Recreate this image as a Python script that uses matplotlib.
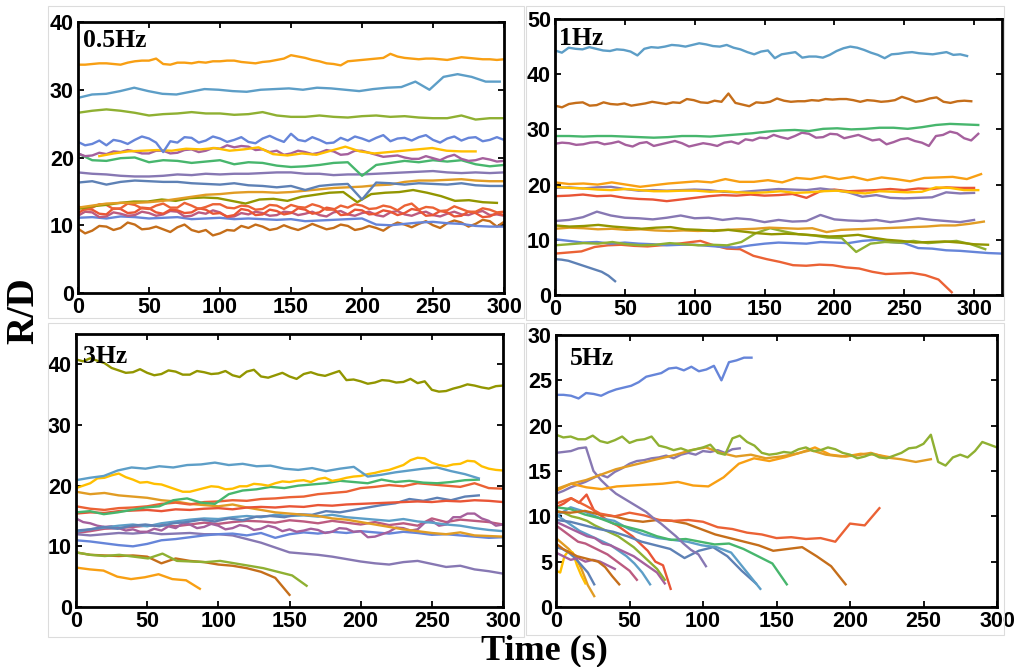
import numpy as np
import matplotlib
matplotlib.use("Agg")
import matplotlib.pyplot as plt
from matplotlib.patches import Rectangle

# ---------------- palette (Mathematica-like) ----------------
BLUE = "#5E81B5"; ORANGE = "#E19C24"; GREEN = "#8FB032"; RED = "#EB6235"
PURPLE = "#8778B3"; BROWN = "#C56E1A"; LBLUE = "#5D9EC7"; YELLOW = "#FFBF00"
MAGENTA = "#A5609D"; OLIVE = "#929600"; RED2 = "#E95536"; RBLUE = "#6685D9"
ORANGE2 = "#F89F13"; PINK = "#BC5B80"; GREEN2 = "#47B66D"

# ---------------- data: 0.5 Hz ----------------
h05_s1 = [33.7,33.7,33.8,33.9,33.9,33.8,33.7,34.0,34.2,34.3,34.3,34.6,33.8,33.7,34.0,34.0,33.9,34.1,34.0,34.2,34.2,34.3,34.3,34.1,34.0,33.9,34.1,34.2,34.4,34.6,35.1,34.9,34.7,34.4,34.2,33.9,33.8,33.6,34.2,34.3,34.4,34.5,34.6,34.7,35.3,34.9,34.7,34.6,34.5,34.6,34.6,34.5,34.4,34.6,34.8,34.7,34.6,34.5,34.5,34.4,34.5]
h05_s2 = [28.8,29.3,29.4,29.8,30.3,29.8,29.4,29.3,29.7,30.1,30.0,29.8,29.7,30.0,30.1,30.2,30.0,30.3,30.2,30.0,29.8,30.1,30.3,30.4,31.2,30.0,31.9,32.3,31.9,31.2,31.2]
h05_s3 = [26.6,26.9,27.1,26.9,26.6,26.2,26.4,26.5,26.7,26.5,26.5,26.3,26.4,26.7,26.2,26.0,26.0,26.2,26.0,25.9,26.1,26.2,26.0,26.1,25.9,25.8,25.8,26.2,25.6,25.8,25.8]
h05_s4 = [22.3,21.8,22.0,22.5,21.8,22.6,22.4,22.0,22.6,23.1,22.8,22.2,20.8,22.4,22.2,23.0,22.9,22.2,22.5,23.1,22.8,22.3,22.6,23.0,22.3,22.1,22.8,23.2,22.7,22.3,23.5,22.6,22.4,23.0,22.6,22.1,22.2,22.9,22.5,23.1,22.8,22.4,22.9,23.3,22.4,22.8,22.9,22.5,23.0,23.3,22.6,22.2,22.8,23.1,22.5,22.9,23.0,22.4,22.6,23.0,22.6]
h05_s5 = [20.2,20.6,20.9,21.0,21.1,21.0,21.3,21.2,21.4,21.0,21.2,21.5,20.5,20.3,20.6,20.4,21.0,21.6,20.9,20.6,20.8,21.0,21.2,21.4,21.0,20.9,20.9]
h05_s6 = [20.6,20.2,20.3,20.7,20.5,20.9,20.8,21.1,20.9,20.6,20.6,21.0,21.0,20.6,20.7,21.1,21.2,20.8,21.0,21.4,21.3,21.8,21.5,21.7,21.6,21.1,21.2,20.8,21.0,20.4,20.6,21.0,20.8,20.5,20.7,21.1,20.9,20.4,20.5,21.0,21.0,20.7,20.4,20.1,20.2,20.3,20.0,19.8,19.8,20.2,19.9,19.6,20.1,20.4,19.8,19.5,19.6,19.9,19.7,19.4,19.5]
h05_s7 = [20.6,19.6,19.5,19.9,20.0,19.3,19.6,19.5,19.2,19.4,19.6,19.0,19.3,19.2,18.8,18.6,18.7,18.9,19.2,19.3,17.3,18.9,19.2,19.5,19.3,19.6,19.4,19.6,19.0,18.7,18.9]
h05_s8 = [17.8,17.6,17.5,17.3,17.2,17.2,17.3,17.5,17.4,17.6,17.5,17.6,17.6,17.7,17.8,17.8,17.6,17.6,17.4,17.5,17.5,17.6,17.7,17.8,17.9,18.0,17.8,17.7,17.8,17.7,17.8]
h05_s9 = [16.3,16.5,16.0,16.4,16.6,16.5,16.4,16.4,16.2,16.1,16.0,16.2,15.9,15.8,15.6,15.8,15.2,15.8,16.0,16.1,13.8,16.3,16.2,16.0,16.2,16.1,16.0,16.2,15.9,15.8,15.8]
h05_s10 = [12.6,12.9,13.2,13.3,13.3,13.4,13.6,13.9,14.2,14.5,14.6,14.8,14.9,14.9,14.8,14.9,15.1,15.3,15.5,15.6,15.7,15.9,16.0,16.4,16.6,16.6,16.7,16.8,16.6,16.5,16.5]
h05_s11 = [12.4,12.8,13.0,13.3,13.5,13.5,13.8,13.6,14.0,14.1,14.0,13.6,13.2,13.8,13.9,13.6,14.2,14.5,14.8,14.9,13.4,14.6,14.8,14.9,15.2,14.8,14.3,13.6,13.7,13.4,13.3]
h05_s12 = [12.8,12.3,12.6,13.1,13.0,12.4,12.5,13.2,13.0,12.5,12.4,12.9,13.2,12.6,12.6,13.3,12.9,12.4,12.7,13.1,13.1,12.6,12.5,12.9,12.8,12.3,12.4,13.0,12.9,12.4,13.0,12.7,12.6,13.1,12.8,12.3,12.3,12.9,12.6,13.1,12.9,12.4,12.5,12.9,12.7,12.2,12.9,13.2,12.3,12.7,12.6,12.1,12.2,12.8,12.4,12.0,12.0,12.5,12.3,11.9,12.0]
h05_s13 = [11.8,12.4,12.3,11.7,11.6,12.5,12.4,11.8,11.9,12.6,12.5,11.9,11.7,12.3,12.2,11.8,11.9,12.5,12.3,11.7,11.8,11.3,11.5,12.4,12.2,11.5,11.6,12.3,12.1,11.6,11.8,12.5,12.3,11.7,11.9,12.6,12.4,11.5,11.6,12.3,12.2,11.6,11.7,12.2,12.0,11.5,11.8,12.4,12.2,11.4,11.5,12.1,11.9,11.3,11.4,12.0,11.8,11.2,11.3,11.8,11.5]
h05_s14 = [11.4,12.0,11.9,11.2,11.3,11.9,11.7,11.4,11.5,12.0,11.8,11.4,11.6,12.1,12.0,11.3,11.4,11.9,11.7,12.2,11.9,11.2,11.3,11.8,11.6,12.0,11.8,11.4,11.5,12.0,11.9,11.5,11.7,12.0,11.5,11.3,11.9,12.1,11.6,11.4,11.8,12.0,11.5,11.3,11.9,12.1,11.6,11.4,11.8,12.0,11.5,11.3,11.7,12.0,11.6,11.5,11.9,12.1,11.5,11.6,11.4]
h05_s15 = [11.1,11.2,11.0,11.3,11.2,11.0,11.1,11.2,10.9,11.0,11.1,10.9,11.0,10.9,10.8,10.9,10.6,10.7,10.8,10.9,11.0,10.1,10.0,10.2,10.4,10.5,10.3,10.2,9.9,9.8,9.8]
h05_s16 = [9.5,8.8,9.2,9.9,9.8,9.3,9.6,10.4,10.1,9.4,9.5,9.8,9.4,9.0,9.7,10.1,9.3,9.0,9.3,8.5,8.8,9.3,9.2,9.9,9.6,10.1,9.8,9.3,9.5,10.0,9.6,9.3,9.7,10.2,9.8,9.4,9.6,10.1,9.9,9.3,9.5,9.9,9.6,9.2,9.9,10.4,10.1,9.7,10.2,10.6,10.0,9.6,10.3,10.7,10.4,9.8,10.2,10.8,10.6,9.8,10.5]

# ---------------- data: 1 Hz ----------------
h1_s1 = [44.3,43.9,44.8,44.6,44.5,44.9,44.6,44.3,44.2,44.5,44.4,44.1,43.4,44.6,44.9,44.8,45.0,45.3,45.2,45.0,45.3,45.6,45.4,45.1,45.0,45.3,44.8,44.5,44.0,43.6,44.1,44.3,42.9,43.6,43.8,44.0,43.0,43.2,43.2,43.0,43.5,44.2,44.7,45.0,44.8,44.4,43.9,43.5,42.9,43.6,43.7,43.9,44.0,43.8,43.7,43.6,43.8,44.0,43.5,43.6,43.3]
h1_s2 = [34.3,34.0,34.6,34.8,34.9,34.3,34.4,34.9,34.6,34.5,34.7,34.3,34.5,34.7,35.0,34.8,34.6,34.9,34.8,35.5,35.3,34.9,34.8,35.2,35.0,36.5,34.8,34.5,34.2,34.9,34.8,35.0,35.6,35.2,35.0,35.1,35.1,35.3,35.2,35.5,35.4,35.5,35.5,35.3,35.0,35.3,35.2,35.0,35.1,35.3,35.9,35.5,35.0,35.2,35.6,35.8,35.0,34.8,35.1,35.2,35.1]
h1_s3 = [28.8,28.8,28.7,28.8,28.8,28.7,28.6,28.5,28.6,28.8,28.8,28.7,28.9,29.1,29.3,29.6,29.8,29.9,29.7,30.1,30.2,30.0,30.1,30.3,30.3,30.1,30.4,30.8,31.0,30.9,30.8]
h1_s4 = [27.4,27.6,27.5,27.2,27.3,27.6,27.7,27.3,27.5,27.8,27.2,26.9,27.5,27.7,27.0,27.3,27.6,27.9,27.5,26.9,27.2,27.5,27.3,27.0,27.6,27.8,27.4,28.2,28.0,28.5,28.4,29.0,28.6,28.3,28.8,29.4,29.2,28.5,28.6,29.2,29.1,28.4,28.7,29.0,28.5,28.0,28.2,27.3,27.7,28.2,28.4,27.9,27.6,27.0,28.8,29.0,29.6,29.3,28.4,28.0,29.2]
h1_s5 = [20.4,20.1,20.2,20.0,20.4,20.0,19.6,19.9,20.2,20.4,20.6,20.4,21.0,20.5,20.5,20.8,20.4,21.2,21.0,21.5,21.0,21.4,20.8,21.3,21.0,20.6,21.2,21.3,21.4,21.0,21.9]
h1_s6 = [19.6,19.4,19.3,19.1,19.0,19.2,19.0,18.8,18.8,18.9,18.9,18.7,18.8,18.6,18.5,18.6,18.8,18.5,18.6,18.8,18.9,18.6,18.4,18.8,18.7,18.6,18.7,19.5,19.4,19.0,19.0]
h1_s7 = [19.4,19.5,19.3,19.5,19.6,19.2,18.9,19.0,18.9,19.0,19.1,19.0,18.7,18.6,18.8,19.0,19.2,19.1,19.0,19.3,19.0,18.6,17.8,18.1,17.6,17.5,17.6,17.7,18.6,18.4,18.5]
h1_s8 = [17.9,18.0,18.2,17.9,18.0,17.6,17.4,17.3,17.0,17.3,17.6,17.9,18.1,18.0,18.2,18.0,18.1,18.3,17.6,18.8,19.1,18.8,18.9,19.0,19.2,19.0,19.3,19.2,19.5,19.4,19.4]
h1_s9 = [13.4,13.6,14.1,15.1,14.4,14.0,13.9,13.7,14.0,14.4,13.9,14.0,13.6,13.9,13.7,13.2,13.6,13.3,13.4,14.5,13.7,13.5,13.4,13.6,13.2,13.5,13.9,13.6,13.4,13.2,13.6]
h1_s10 = [12.6,12.4,12.5,12.7,12.4,12.2,12.0,12.2,12.3,11.9,11.8,11.6,11.8,11.5,11.2,11.0,11.1,11.0,10.8,10.6,10.7,10.9,10.4,10.0,9.8,9.5,9.6,9.7,9.5,9.2,9.1]
h1_s11 = [12.0,12.2,12.1,11.9,12.0,11.8,11.9,11.7,11.6,11.7,11.6,11.7,11.8,11.9,12.0,12.2,12.1,12.0,12.1,11.4,11.8,11.9,12.0,12.1,12.2,12.3,12.4,12.6,12.6,12.9,13.3]
h1_s12 = [9.0,9.2,9.4,9.3,9.6,9.2,9.0,9.1,9.4,9.2,9.0,9.1,9.0,9.6,11.2,12.1,11.5,11.0,10.8,10.4,10.3,7.8,9.3,9.6,9.5,9.8,9.4,9.6,9.8,9.2,8.3]
h1_s13 = [10.1,9.8,9.5,9.6,9.3,9.5,9.3,9.2,9.0,9.1,9.1,8.9,8.7,8.6,9.0,9.3,9.5,9.4,9.3,9.6,9.5,9.4,9.8,10.0,9.6,9.4,8.5,8.4,8.1,8.0,7.8,7.6,7.5]
h1_s14 = [7.5,7.7,7.9,8.7,9.0,9.1,8.9,8.8,9.0,9.2,9.5,9.8,9.0,8.4,8.3,7.1,6.5,6.0,5.4,5.3,5.5,5.4,5.0,4.8,4.2,3.8,3.9,4.0,3.6,2.8,0.5]
h1_s15 = [6.5,6.4,6.2,5.8,5.4,5.0,4.6,4.2,3.5,2.5]

# ---------------- data: 3 Hz ----------------
h3_s1 = [40.8,40.5,41.0,40.6,40.2,39.4,39.0,38.6,38.7,39.2,38.6,38.2,38.4,39.0,38.8,38.3,38.3,38.9,38.7,38.4,38.5,38.9,38.2,37.9,38.8,39.1,38.0,37.8,38.2,38.6,38.0,37.6,38.4,38.7,38.3,38.1,38.5,38.9,37.4,37.5,37.2,36.8,37.0,37.4,37.3,37.0,37.1,37.6,36.9,37.2,35.8,35.5,35.6,36.0,36.3,36.7,36.5,36.2,36.0,36.4,36.5]
h3_s2 = [20.9,21.3,21.6,22.5,23.0,22.8,23.2,23.0,23.4,23.5,23.8,23.4,23.6,23.2,23.3,22.8,22.6,22.9,22.4,22.8,23.1,21.5,21.8,22.2,22.5,22.8,23.0,22.4,21.9,21.2]
h3_s3 = [19.6,20.0,20.4,21.2,21.3,21.7,22.0,21.4,21.0,20.5,20.6,20.3,20.2,19.8,19.4,19.0,19.0,19.3,19.6,19.9,19.8,19.4,19.5,19.9,19.9,20.3,20.2,20.0,20.4,20.7,20.6,20.8,20.9,20.6,21.1,21.3,20.8,21.0,21.3,21.5,21.6,21.9,22.1,22.4,22.6,23.0,23.4,24.2,24.6,24.5,23.8,23.4,23.2,23.5,23.6,24.1,24.0,23.2,22.8,22.6,22.5]
h3_s4 = [19.0,18.6,18.8,18.4,18.2,18.0,17.6,17.4,17.0,16.8,16.6,16.9,16.4,16.0,15.6,15.4,15.2,15.0,14.6,14.4,14.0,13.6,13.2,12.8,12.5,12.2,12.0,12.3,11.8,11.7,11.6]
h3_s5 = [15.6,15.8,15.3,15.6,16.0,16.4,16.6,17.6,17.9,17.2,17.0,18.6,19.2,19.4,19.8,19.6,20.0,20.2,20.4,20.8,20.6,20.4,21.0,20.6,20.8,20.5,20.4,20.6,20.9,21.0]
h3_s6 = [16.6,16.2,16.0,16.3,16.4,16.6,17.0,17.2,16.9,17.3,17.4,17.6,17.5,17.8,17.9,18.1,18.2,18.6,18.8,19.0,19.6,19.8,20.1,19.9,20.4,20.2,20.0,19.8,20.4,19.6,19.5]
h3_s7 = [15.4,15.6,15.5,15.8,15.9,16.0,15.8,16.1,16.0,16.2,16.3,16.1,16.4,16.5,16.4,16.6,16.5,16.8,16.7,16.9,17.0,17.1,17.2,17.3,17.4,17.3,17.5,17.4,17.6,17.5,17.3]
h3_s8 = [12.6,12.8,13.2,12.9,13.4,13.6,13.3,13.8,14.0,14.4,14.1,14.6,14.3,14.9,15.0,14.8,15.3,15.2,15.8,15.6,16.0,16.4,16.8,17.1,17.8,17.5,18.0,17.6,18.2,18.4]
h3_s9 = [12.4,12.8,13.1,13.4,13.6,13.3,13.8,14.1,14.4,14.6,14.5,14.8,15.0,14.8,15.2,15.0,15.1,14.9,15.2,14.8,14.6,14.4,14.2,14.5,14.1,13.9,13.6,13.4,13.0,12.7,12.5]
h3_s10 = [14.6,14.0,13.8,13.4,13.2,13.3,13.0,12.6,12.8,12.4,12.4,12.9,12.6,13.3,13.0,13.8,13.6,13.0,13.2,13.7,13.4,12.8,13.0,13.5,13.3,12.7,12.9,13.4,13.1,12.5,12.8,12.4,12.6,12.9,12.7,12.2,12.4,13.0,12.9,12.4,12.5,11.5,11.6,12.0,12.4,13.1,13.0,12.6,12.8,13.9,14.2,13.4,13.6,14.8,14.8,15.4,15.4,14.6,14.2,13.4,13.6]
h3_s11 = [11.0,10.8,10.5,10.2,10.0,10.4,11.0,11.2,11.5,11.8,12.0,12.1,11.8,12.2,11.4,12.0,12.3,12.1,12.4,12.2,12.5,12.3,12.1,12.4,12.2,11.9,12.0,11.8,11.6,11.4,11.5]
h3_s12 = [12.0,11.8,12.0,12.2,12.1,12.3,12.0,12.1,12.2,12.0,12.0,11.8,11.2,10.6,9.8,9.0,8.8,8.6,8.3,7.9,7.5,7.2,7.0,7.4,7.6,7.1,6.6,6.8,6.2,5.9,5.5]
h3_s13 = [12.2,12.5,12.9,13.0,13.2,13.4,13.5,13.3,13.6,13.9,13.7,14.0,14.2,14.1,13.9,14.3,14.1,13.8,14.2,13.9,13.6,14.0,13.5,13.8,13.4,14.6,14.0,14.4,14.2,14.0,13.6]
h3_s14 = [9.0,8.6,8.4,8.6,8.3,8.0,8.8,7.6,7.5,7.4,7.6,7.2,6.8,6.4,5.8,5.2,3.5]
h3_s15 = [9.0,8.6,8.5,8.4,8.5,8.3,7.2,8.0,7.6,7.4,7.0,6.8,6.4,5.8,4.8,2.0]
h3_s16 = [6.5,6.2,6.0,5.0,4.6,4.9,5.4,4.6,4.4,3.0]

# ---------------- data: 5 Hz ----------------
h5_s1 = [23.4,23.4,23.3,23.0,23.6,23.5,23.3,23.7,24.0,24.2,24.4,24.8,25.4,25.6,25.8,26.3,26.4,26.1,26.5,26.0,26.2,26.6,25.0,27.0,27.2,27.5,27.5]
h5_s2 = [19.0,18.7,18.8,18.5,18.5,18.9,18.3,18.1,18.4,18.8,18.1,18.4,18.5,18.8,17.8,17.6,17.3,17.5,17.2,17.4,17.6,17.9,17.0,16.8,18.6,18.9,18.2,17.8,17.0,16.8,16.9,17.1,17.0,17.4,17.6,17.2,17.3,17.6,17.4,17.0,16.8,16.4,16.6,16.9,16.5,16.4,16.7,17.0,17.5,17.6,18.0,19.0,16.0,15.6,16.5,16.8,16.5,17.2,18.2,17.9,17.6]
h5_s3 = [13.0,13.6,14.0,14.6,15.2,15.6,16.0,16.4,16.8,17.3,17.6,17.0,16.6,16.8,16.4,16.6,16.9,17.3,16.8,16.6,16.7,17.0,16.5,16.3,16.0,16.3]
h5_s4 = [12.8,13.6,13.2,13.0,13.3,13.4,13.5,13.6,13.8,13.4,13.3,14.3,15.8,16.4,16.1,16.5,17.0,17.6,16.8,16.6,16.9,16.8,16.5]
h5_s5 = [17.0,17.1,17.2,17.5,17.6,15.0,14.0,13.2,12.5,12.0,11.5,11.0,10.5,9.8,9.2,8.5,7.8,7.0,6.3,5.8,4.5]
h5_s6 = [12.5,12.8,13.2,13.5,13.8,14.2,14.6,14.3,14.9,15.3,15.8,16.1,16.2,16.4,16.5,16.7,16.4,16.8,17.0,16.8,17.2,17.1,17.3,17.0,17.4,17.5]
h5_s7 = [11.4,12.0,11.2,10.3,10.0,10.4,10.1,9.6,9.5,9.6,9.4,8.8,8.6,8.2,8.0,7.6,7.7,7.5,7.6,7.2,9.2,9.0,10.9]
h5_s8 = [10.5,10.4,10.6,10.2,10.0,9.6,9.4,9.6,9.5,9.2,8.6,8.0,7.6,7.2,6.8,6.2,6.4,6.6,5.6,4.5,2.5]
h5_s9 = [11.0,10.8,10.2,9.8,9.2,8.8,8.4,7.8,7.4,7.5,7.2,6.9,7.0,6.4,5.6,4.8,2.5]
h5_s10 = [10.0,11.0,10.5,9.8,9.5,8.6,8.0,7.6,7.4,7.2,6.8,6.6,6.0,4.0,2.0]
h5_s11 = [9.6,9.4,9.0,8.6,8.3,7.8,7.2,6.8,6.4,5.4,6.2,6.6,5.6,4.0,2.6]
h5_s12 = [11.0,11.4,12.0,11.5,12.4,10.6,10.0,9.4,9.0,8.4,7.8,7.0,6.2,5.0,4.6,2.0]
h5_s13 = [10.6,10.4,10.0,9.8,9.5,9.0,8.6,8.2,7.8,7.2,6.6,5.8,5.0,4.2,3.0]
h5_s14 = [9.4,9.0,8.6,8.2,7.8,7.6,7.0,6.8,6.4,6.0,5.6,5.0,4.4,3.8,2.6]
h5_s15 = [10.2,9.6,9.0,8.4,8.0,7.6,7.2,6.8,6.2,5.6,4.8,3.8,2.5]
h5_s16 = [9.0,8.4,7.8,7.2,7.0,6.6,6.2,5.8,5.2,4.6,4.0,3.0]
h5_s17 = [7.0,6.4,6.0,5.6,5.4,5.2,5.0,4.4,3.4,2.5]
h5_s18 = [6.0,5.6,5.2,5.4,5.0,5.2,5.0,4.6,4.2]
h5_s19 = [6.6,6.4,6.0,5.4,4.6,3.8,2.5]
h5_s20 = [4.0,3.8,5.6,6.2,6.0,4.6,3.5,2.6]
h5_s21 = [7.6,7.0,6.4,5.6,4.2,2.4,1.2]

# series: (values, start time, end time, colour)
panel_05 = [
    (h05_s16, 0, 300, BROWN), (h05_s15, 0, 300, RBLUE), (h05_s14, 0, 300, PINK),
    (h05_s13, 0, 300, RED2), (h05_s12, 0, 300, RED), (h05_s11, 0, 295, OLIVE),
    (h05_s10, 0, 300, ORANGE), (h05_s9, 0, 300, BLUE), (h05_s8, 0, 300, PURPLE),
    (h05_s7, 0, 300, GREEN2), (h05_s6, 0, 300, MAGENTA), (h05_s5, 15, 280, YELLOW),
    (h05_s4, 0, 300, RBLUE), (h05_s3, 0, 300, GREEN), (h05_s2, 0, 297, LBLUE),
    (h05_s1, 0, 300, ORANGE2),
]
panel_1 = [
    (h1_s15, 0, 43, BLUE), (h1_s14, 0, 284, RED), (h1_s13, 0, 320, RBLUE),
    (h1_s12, 0, 308, GREEN), (h1_s11, 0, 307, ORANGE), (h1_s10, 0, 310, OLIVE),
    (h1_s9, 0, 300, PURPLE), (h1_s8, 0, 300, RED2), (h1_s7, 0, 300, PURPLE),
    (h1_s6, 0, 303, YELLOW), (h1_s5, 0, 305, ORANGE2), (h1_s4, 0, 303, MAGENTA),
    (h1_s3, 0, 303, GREEN2), (h1_s2, 0, 298, BROWN), (h1_s1, 0, 295, LBLUE),
]
panel_3 = [
    (h3_s16, 0, 87, ORANGE2), (h3_s15, 0, 150, BROWN), (h3_s14, 0, 162, GREEN),
    (h3_s13, 0, 300, PINK), (h3_s12, 0, 300, PURPLE), (h3_s11, 0, 300, RBLUE),
    (h3_s10, 0, 300, MAGENTA), (h3_s9, 0, 300, LBLUE), (h3_s8, 0, 283, BLUE),
    (h3_s4, 0, 300, ORANGE), (h3_s7, 0, 300, RED2), (h3_s6, 0, 300, RED),
    (h3_s5, 0, 283, GREEN2), (h3_s3, 0, 300, YELLOW), (h3_s2, 0, 283, LBLUE),
    (h3_s1, 0, 300, OLIVE),
]
panel_5 = [
    (h5_s21, 0, 26, ORANGE), (h5_s20, 0, 20, YELLOW), (h5_s19, 0, 26, BLUE),
    (h5_s18, 0, 40, MAGENTA), (h5_s17, 0, 43, BROWN), (h5_s16, 0, 55, PINK),
    (h5_s15, 0, 64, LBLUE), (h5_s14, 0, 74, MAGENTA), (h5_s13, 0, 74, GREEN),
    (h5_s12, 0, 78, RED2), (h5_s11, 0, 136, BLUE), (h5_s10, 0, 139, LBLUE),
    (h5_s9, 0, 157, GREEN2), (h5_s8, 0, 197, BROWN), (h5_s7, 0, 220, RED),
    (h5_s6, 0, 125, PURPLE), (h5_s5, 0, 102, PURPLE), (h5_s4, 0, 228, ORANGE2),
    (h5_s3, 0, 255, ORANGE), (h5_s2, 0, 300, GREEN), (h5_s1, 0, 133, RBLUE),
]

panels = [
    # (series, label, pixel box [left, top, right, bottom], xlim, ylim, yticks, label pos)
    (panel_05, "0.5Hz", (78, 22, 504, 293), 300, 40, [0, 10, 20, 30, 40], (83, 47)),
    (panel_1, "1Hz", (555, 19, 1002, 295), 320, 50, [0, 10, 20, 30, 40, 50], (559, 45)),
    (panel_3, "3Hz", (76, 334, 503, 607), 300, 45, [0, 10, 20, 30, 40], (83, 363)),
    (panel_5, "5Hz", (556, 335, 997, 607), 300, 30, [0, 5, 10, 15, 20, 25, 30], (570, 365)),
]
xticks = [0, 50, 100, 150, 200, 250, 300]

W, H = 1018, 667
fig = plt.figure(figsize=(W / 100, H / 100), dpi=100)
fig.patch.set_facecolor("white")

# faint panel frames (as in the composed figure)
for (l, t, r, b) in [(48, 6, 524, 318), (526, 6, 1004, 320), (48, 323, 524, 637), (526, 323, 1004, 635)]:
    fig.add_artist(Rectangle((l / W, 1 - b / H), (r - l) / W, (b - t) / H,
                             transform=fig.transFigure, fill=False,
                             edgecolor="#dcdcdc", lw=0.8))

tick_font = dict(family="Liberation Sans", weight="bold", size=15.5)
serif = ["Liberation Serif", "DejaVu Serif"]

for series, label, (l, t, r, b), xmax, ymax, yticks, (lx, ly) in panels:
    ax = fig.add_axes([l / W, 1 - b / H, (r - l) / W, (b - t) / H])
    for vals, t0, t1, col in series:
        tt = np.linspace(t0, t1, len(vals))
        ax.plot(tt, vals, color=col, lw=1.7, solid_joinstyle="round")
    ax.set_xlim(0, xmax)
    ax.set_ylim(0, ymax)
    ax.set_xticks(xticks)
    ax.set_yticks(yticks)
    ax.set_xticklabels([str(v) for v in xticks], fontdict=tick_font)
    ax.set_yticklabels([str(v) for v in yticks], fontdict=tick_font)
    ax.tick_params(direction="in", length=4, width=1.3, top=True, right=True, pad=3)
    ax.tick_params(axis="x", pad=3)
    for sp in ax.spines.values():
        sp.set_linewidth(2.0)
        sp.set_color("black")
    fig.text(lx / W, 1 - ly / H, label, family=serif, weight="bold", size=18.5,
             ha="left", va="baseline")

fig.text(24 / W, 1 - 311 / H, "R/D", family=serif, weight="bold", size=28,
         rotation=90, ha="center", va="center")
fig.text(544 / W, 1 - 659 / H, "Time (s)", family=serif, weight="bold", size=26,
         ha="center", va="baseline")

fig.savefig("out.png", dpi=100, facecolor="white")
